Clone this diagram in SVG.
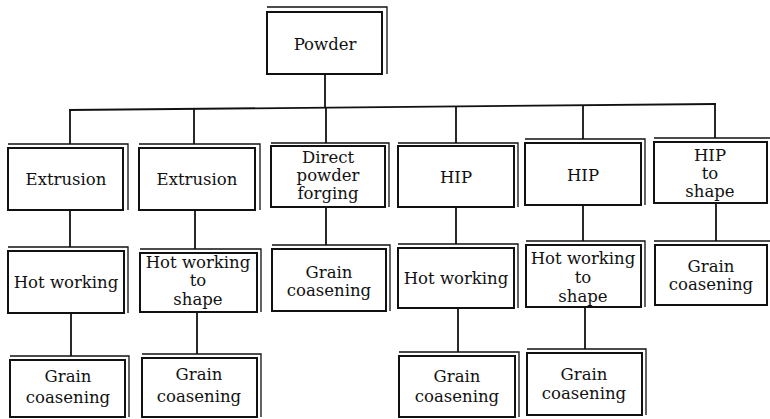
<svg xmlns="http://www.w3.org/2000/svg" width="770" height="419" viewBox="0 0 770 419">
<style>
.b{fill:#fff;stroke:#111;stroke-width:2}
.o{fill:none;stroke:#111;stroke-width:1.3}
.c line{stroke:#111;stroke-width:1.8}
text{font-family:"DejaVu Serif","Liberation Serif",serif;font-size:16.5px;fill:#111;text-anchor:middle}
</style>
<rect width="770" height="419" fill="#fff"/>
<g class="c" id="connectors">
<line x1="325" y1="74" x2="325" y2="108"/>
<line x1="69" y1="110" x2="716" y2="104"/>
<line x1="70" y1="110" x2="70" y2="144"/>
<line x1="194" y1="109" x2="194" y2="144"/>
<line x1="326" y1="108" x2="326" y2="143"/>
<line x1="456" y1="107" x2="456" y2="143"/>
<line x1="583" y1="105" x2="583" y2="139"/>
<line x1="715" y1="104" x2="715" y2="138"/>
<line x1="70" y1="210" x2="70" y2="247"/>
<line x1="195" y1="210" x2="195" y2="249"/>
<line x1="326" y1="207" x2="326" y2="245"/>
<line x1="456" y1="207" x2="456" y2="244"/>
<line x1="583" y1="205" x2="583" y2="241"/>
<line x1="716" y1="203" x2="716" y2="241"/>
<line x1="71" y1="313" x2="71" y2="356"/>
<line x1="197" y1="312" x2="197" y2="354"/>
<line x1="458" y1="308" x2="458" y2="352"/>
<line x1="585" y1="307" x2="585" y2="349"/>
</g>
<g id="powder"><polyline class="o" points="267,7 387,7 387,74"/><rect class="b" x="267" y="12" width="115" height="62"/><text x="325" y="50">Powder</text></g>
<g id="extrusion1"><polyline class="o" points="8,144 128,144 128,210"/><rect class="b" x="8" y="148" width="115" height="62"/><text x="66" y="185">Extrusion</text></g>
<g id="extrusion2"><polyline class="o" points="139,144 260,144 260,210"/><rect class="b" x="139" y="148" width="116" height="62"/><text x="197" y="185">Extrusion</text></g>
<g id="dpf"><polyline class="o" points="271,143 389,143 389,207"/><rect class="b" x="271" y="146" width="114" height="61"/><text x="328" y="163">Direct</text><text x="328" y="181">powder</text><text x="328" y="199">forging</text></g>
<g id="hip1"><polyline class="o" points="398,143 518,143 518,207"/><rect class="b" x="398" y="146" width="116" height="61"/><text x="456" y="183">HIP</text></g>
<g id="hip2"><polyline class="o" points="525,139 645,139 645,205"/><rect class="b" x="525" y="143" width="116" height="62"/><text x="583" y="181">HIP</text></g>
<g id="hipshape"><polyline class="o" points="654,138 772,138 772,203"/><rect class="b" x="654" y="142" width="113" height="61"/><text x="710" y="161">HIP</text><text x="710" y="179">to</text><text x="710" y="197">shape</text></g>
<g id="hw1"><polyline class="o" points="8,247 128,247 128,313"/><rect class="b" x="8" y="251" width="116" height="62"/><text x="66" y="288">Hot working</text></g>
<g id="hws2"><polyline class="o" points="140,249 261,249 261,312"/><rect class="b" x="140" y="253" width="117" height="59"/><text x="198" y="268">Hot working</text><text x="198" y="286">to</text><text x="198" y="305">shape</text></g>
<g id="gc3"><polyline class="o" points="272,245 390,245 390,311"/><rect class="b" x="272" y="249" width="114" height="62"/><text x="329" y="278">Grain</text><text x="329" y="296">coasening</text></g>
<g id="hw4"><polyline class="o" points="398,244 518,244 518,308"/><rect class="b" x="398" y="248" width="116" height="60"/><text x="456" y="284">Hot working</text></g>
<g id="hws5"><polyline class="o" points="526,241 645,241 645,307"/><rect class="b" x="526" y="245" width="115" height="62"/><text x="583" y="264">Hot working</text><text x="583" y="283">to</text><text x="583" y="302">shape</text></g>
<g id="gc6"><polyline class="o" points="654,241 772,241 772,305"/><rect class="b" x="655" y="245" width="112" height="60"/><text x="711" y="272">Grain</text><text x="711" y="290">coasening</text></g>
<g id="gc1"><polyline class="o" points="10,356 129,356 129,417"/><rect class="b" x="10" y="360" width="115" height="57"/><text x="68" y="382">Grain</text><text x="68" y="403">coasening</text></g>
<g id="gc2"><polyline class="o" points="142,354 261,354 261,417"/><rect class="b" x="142" y="358" width="115" height="59"/><text x="199" y="380">Grain</text><text x="199" y="402">coasening</text></g>
<g id="gc4"><polyline class="o" points="399,352 519,352 519,417"/><rect class="b" x="399" y="356" width="116" height="61"/><text x="457" y="382">Grain</text><text x="457" y="402">coasening</text></g>
<g id="gc5"><polyline class="o" points="527,349 646,349 646,415"/><rect class="b" x="527" y="353" width="115" height="62"/><text x="584" y="380">Grain</text><text x="584" y="399">coasening</text></g>
</svg>
